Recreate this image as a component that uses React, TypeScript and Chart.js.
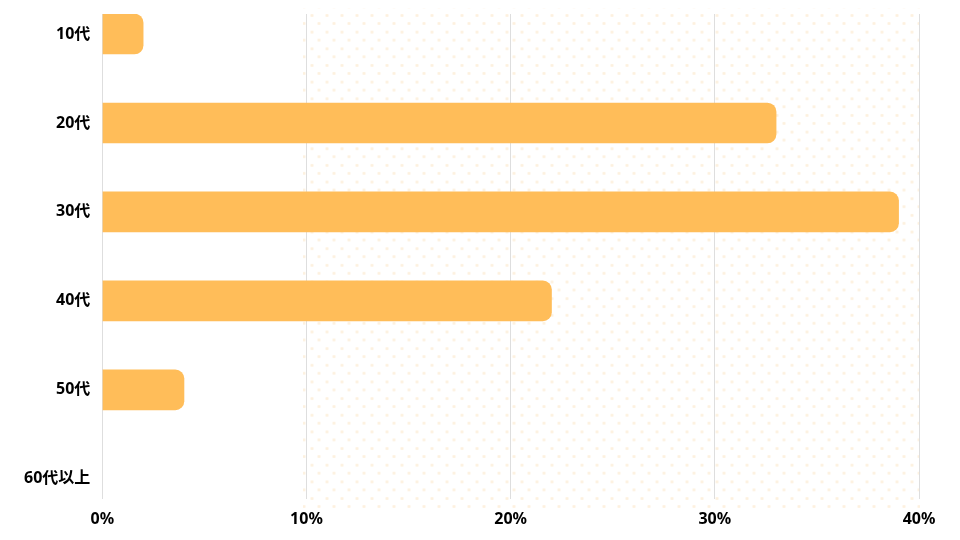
import React, { useEffect, useRef } from "react";
import { Chart, registerables } from "chart.js";

Chart.register(...registerables);

const categories = ["10代", "20代", "30代", "40代", "50代", "60代以上"];
const shares = [2, 33, 39, 22, 4, 0];
const xTicks = [0, 10, 20, 30, 40];

const FONT = '"Noto Sans", "Noto Sans CJK JP", sans-serif';
const BAR = "#FFBD59";
const X_PAD = 11;
const Y_PAD = 12;

export default function App() {
  const ref = useRef<HTMLCanvasElement | null>(null);

  useEffect(() => {
    if (!ref.current) return;
    const chart = new Chart(ref.current, {
      type: "bar",
      data: {
        datasets: [
          {
            data: shares.map((v, i) => ({ x: v, y: i })),
            backgroundColor: (ctx: any) =>
              ctx.raw && ctx.raw.x > 0 ? BAR : "rgba(0,0,0,0)",
            borderRadius: 9,
            borderSkipped: "start",
            barThickness: 40,
          },
        ],
      },
      options: {
        indexAxis: "y",
        animation: false,
        responsive: true,
        maintainAspectRatio: false,
        layout: { padding: { top: 6, bottom: 3, left: 16, right: 33 } },
        plugins: { legend: { display: false }, tooltip: { enabled: false } },
        scales: {
          x: {
            type: "linear",
            min: xTicks[0],
            max: xTicks[xTicks.length - 1],
            afterBuildTicks: (scale: any) => {
              scale.ticks = xTicks.map((v) => ({ value: v }));
            },
            afterFit: (scale: any) => {
              scale.paddingLeft = 0;
              scale.paddingRight = 0;
              scale.height = scale.height - X_PAD;
            },
            grid: { color: "#dedede", drawTicks: false, lineWidth: 1 },
            border: { display: false },
            ticks: {
              padding: X_PAD,
              color: "#000",
              font: { family: FONT, size: 16, weight: "bold" },
              callback: (v: any) => v + "%",
            },
          },
          y: {
            type: "linear",
            reverse: true,
            offset: false,
            bounds: "data",
            min: -0.225,
            max: categories.length - 1 + 0.225,
            grid: { display: false, drawTicks: false, offset: false },
            border: { display: false },
            afterBuildTicks: (scale: any) => {
              scale.ticks = categories.map((_, i) => ({ value: i }));
            },
            afterFit: (scale: any) => {
              scale.paddingTop = 0;
              scale.paddingBottom = 0;
              scale.width = scale.width - Y_PAD;
            },
            ticks: {
              autoSkip: false,
              padding: Y_PAD,
              color: "#000",
              font: { family: FONT, size: 16, weight: "bold" },
              callback: (v: any) => categories[v] ?? "",
            },
          },
        },
      },
    });
    return () => chart.destroy();
  }, []);

  const dotA = "radial-gradient(circle, #fdf1df 1.2px, rgba(253,241,223,0) 1.9px)";
  return (
    <div style={{ position: "relative", width: 944, height: 524 }}>
      <div
        style={{
          position: "absolute",
          left: 295,
          top: 0,
          width: 617,
          height: 502,
          backgroundImage: `${dotA}, ${dotA}`,
          backgroundSize: "15px 16.67px, 15px 16.67px",
          backgroundPosition: "1.5px -0.83px, 8.5px 7.17px",
        }}
      />
      <canvas ref={ref} style={{ position: "relative" }} />
    </div>
  );
}
